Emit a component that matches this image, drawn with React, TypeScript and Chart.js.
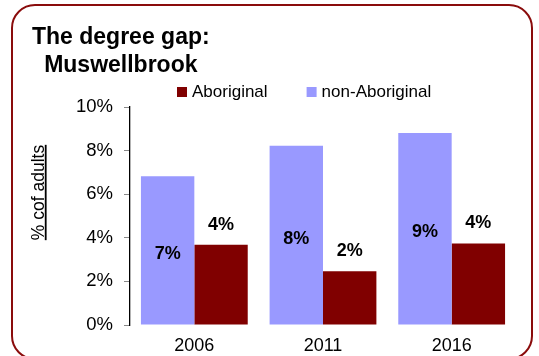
import { useEffect, useRef } from 'react';
import { Chart, registerables } from 'chart.js';

Chart.register(...registerables);

const categories = ['2006', '2011', '2016'];
const seriesNames = ['non-Aboriginal', 'Aboriginal'];
const nonAboriginal = [6.82, 8.22, 8.81];
const aboriginal = [3.68, 2.47, 3.74];
const seriesColors = ['#9999FF', '#800000'];
const legendOrder = [1, 0];
const titleLines = ['The degree gap:', 'Muswellbrook'];
const yAxisTitle = '% cof adults';
const yMin = 0;
const yMax = 10;
const yStep = 2;

const FONT = '"Liberation Sans", Arial, sans-serif';

const decor = {
  id: 'decor',
  afterDatasetsDraw(chart: any) {
    const ctx = chart.ctx;
    ctx.save();
    // value labels
    ctx.font = `bold 18px ${FONT}`;
    ctx.fillStyle = '#000';
    ctx.textAlign = 'center';
    ctx.textBaseline = 'alphabetic';
    chart.data.datasets.forEach((ds: any, di: number) => {
      const meta = chart.getDatasetMeta(di);
      meta.data.forEach((bar: any, i: number) => {
        const v = ds.data[i];
        const txt = Math.round(v) + '%';
        const { x, y, base } = bar.getProps(['x', 'y', 'base'], true);
        const ty = di === 0 ? (y + base) / 2 + 8.4 : y - 15;
        ctx.fillText(txt, x, ty);
      });
    });

    // title
    ctx.font = `bold 23px ${FONT}`;
    ctx.textAlign = 'left';
    const w1 = ctx.measureText(titleLines[0]).width;
    ctx.fillText(titleLines[0], 32, 44);
    ctx.textAlign = 'center';
    ctx.fillText(titleLines[1], 32 + w1 / 2, 72);

    // legend
    ctx.font = `17px ${FONT}`;
    ctx.textAlign = 'left';
    let lx = 177;
    legendOrder.forEach((di) => {
      const ds = chart.data.datasets[di];
      ctx.fillStyle = ds.backgroundColor;
      ctx.fillRect(lx, 87, 10, 10);
      ctx.fillStyle = '#000';
      ctx.fillText(ds.label, lx + 15, 97);
      const tw = ctx.measureText(ds.label).width;
      lx = lx + 15 + tw + 39;
    });

    // y axis title (rotated, underlined)
    ctx.font = `17.5px ${FONT}`;
    const tw = ctx.measureText(yAxisTitle).width;
    ctx.translate(44, 192.5);
    ctx.rotate(-Math.PI / 2);
    ctx.textAlign = 'center';
    ctx.fillStyle = '#000';
    ctx.fillText(yAxisTitle, 0, 0);
    ctx.fillRect(-tw / 2, 0.8, tw, 1.8);
    ctx.restore();
  },
};

export default function App() {
  const ref = useRef<HTMLCanvasElement | null>(null);

  useEffect(() => {
    if (!ref.current) return;
    const chart = new Chart(ref.current, {
      type: 'bar',
      data: {
        labels: categories,
        datasets: [
          {
            label: seriesNames[0],
            data: nonAboriginal,
            backgroundColor: seriesColors[0],
            borderWidth: 0,
          },
          {
            label: seriesNames[1],
            data: aboriginal,
            backgroundColor: seriesColors[1],
            borderWidth: 0,
          },
        ],
      },
      options: {
        responsive: false,
        animation: false,
        devicePixelRatio: 1,
        layout: { padding: { top: 107, left: 60, right: 23, bottom: 1 } },
        datasets: { bar: { categoryPercentage: 0.83, barPercentage: 1 } },
        plugins: {
          legend: { display: false },
          title: { display: false },
          tooltip: { enabled: false },
        },
        scales: {
          x: {
            afterFit: (s: any) => {
              s.height = 30;
            },
            grid: { display: false, drawTicks: false },
            border: { display: false },
            ticks: {
              color: '#000',
              padding: 12,
              font: { family: FONT, size: 18, lineHeight: 1 },
            },
          },
          y: {
            min: yMin,
            max: yMax,
            afterFit: (s: any) => {
              s.width = 70;
            },
            grid: {
              display: true,
              drawOnChartArea: false,
              drawTicks: true,
              tickLength: 6,
              color: '#888',
            },
            border: { display: true, color: '#000', width: 1.3 },
            ticks: {
              stepSize: yStep,
              color: '#000',
              padding: 11,
              font: { family: FONT, size: 18.5 },
              callback: (v: any) => v + '%',
            },
          },
        },
      },
      plugins: [decor],
    });
    return () => chart.destroy();
  }, []);

  return (
    <div
      style={{
        position: 'fixed',
        left: 0,
        top: 0,
        width: 539,
        height: 356,
        overflow: 'hidden',
        background: '#fff',
      }}
    >
      <div
        style={{
          position: 'absolute',
          left: 11,
          top: 4,
          width: 522,
          height: 356,
          boxSizing: 'border-box',
          border: '2.5px solid #8a0c0c',
          borderRadius: 24,
        }}
      />
      <canvas
        ref={ref}
        width={539}
        height={356}
        style={{ position: 'absolute', left: 0, top: 0, width: 539, height: 356 }}
      />
    </div>
  );
}
